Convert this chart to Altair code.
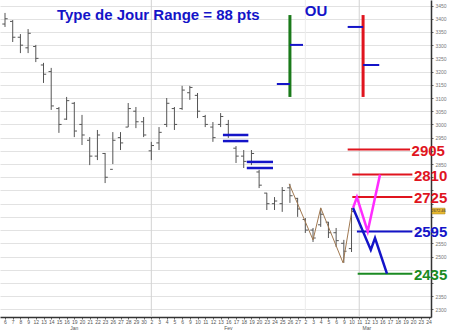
import altair as alt
import pandas as pd

# ---------------- data ----------------
high = [3422, 3395, 3342, 3361, 3301, 3233, 3214, 3066, 3104, 3085,
        3036, 2952, 2979, 2892, 2971, 2971, 3081, 3066, 3028, 2934,
        2990, 3100, 3066, 3146, 3146, 3119, 3036, 3009, 3043, 3017,
        2918, 2903, 2903, 2828, 2741, 2725, 2763, 2775, 2722, 2646,
        2608, 2684, 2631, 2608, 2563, 2684]
low = [3369, 3312, 3270, 3270, 3236, 3157, 3055, 2968, 3017, 2952,
       2922, 2846, 2865, 2778, 2850, 2903, 2990, 2986, 2952, 2865,
       2903, 2990, 2979, 3055, 3093, 3024, 2990, 2934, 2990, 2949,
       2854, 2835, 2846, 2759, 2676, 2676, 2669, 2703, 2650, 2589,
       2555, 2612, 2570, 2536, 2476, 2517]
opens = [3380, 3390, 3330, 3290, 3295, 3225, 3200, 3060, 3020, 3080,
         3000, 2940, 2880, 2890, 2830, 2950, 2990, 3050, 3010, 2900,
         2930, 3000, 3060, 3060, 3120, 3110, 3030, 2990, 3000, 3000,
         2910, 2880, 2860, 2820, 2740, 2700, 2700, 2760, 2720, 2640,
         2600, 2620, 2630, 2590, 2550, 2530]
closes = [3400, 3330, 3300, 3345, 3250, 3190, 3070, 3000, 3090, 2975,
          2960, 2880, 2960, 2800, 2940, 2930, 3060, 3010, 2960, 2920,
          2970, 3080, 3000, 3130, 3140, 3050, 3000, 2950, 3030, 2960,
          2880, 2860, 2890, 2770, 2700, 2710, 2750, 2730, 2680, 2600,
          2570, 2660, 2590, 2560, 2520, 2670]

days = ["6", "7", "8", "9", "12", "13", "14", "15", "16", "19", "20", "21", "22", "23",
        "26", "27", "28", "29", "30",
        "2", "3", "4", "5", "6", "9", "10", "11", "12", "13", "16", "17", "18", "19", "20",
        "23", "24", "25", "26", "27",
        "2", "3", "4", "5", "6", "9", "10", "11", "12", "13", "16", "17", "18", "19", "20",
        "23", "24"]
months = ["Jan", "Fev", "Mar"]
month_at = [9, 29, 47]
month_label_p = 2231

wave_x = [36.9, 40.0, 41.0, 43.9, 45.1]
wave_p = [2775, 2563, 2684, 2476, 2684]

up_x = [45.2, 45.7, 47.1, 48.7]
up_p = [2684, 2725, 2595, 2810]
down_x = [45.2, 47.5, 48.05, 49.6]
down_p = [2684, 2525, 2570, 2435]

levels = [2905, 2810, 2725, 2595, 2435]
level_from = [44.5, 45.1, 45.1, 45.7, 45.8]
level_to = [52.6, 52.9, 52.9, 52.9, 52.9]
level_kind = ["r", "r", "r", "b", "g"]

band_p = [2960, 2937, 2858, 2835]
band_from = [28.3, 28.3, 31.4, 31.4]
band_to = [31.6, 31.6, 34.8, 34.8]

last_price = 2672
month_lines = [19, 46]
month_lines_faint = [39]

y_ticks = list(range(2300, 3451, 50))
y_hidden = [2900, 2800, 2750, 2700, 2650, 2600, 2450, 2400]

# ---------------- styles ----------------
RED = "#e0141e"
BLUE = "#1414c8"
GREEN = "#1a8a22"
kind_color = {"r": RED, "b": BLUE, "g": GREEN}
FONT = "Liberation Sans"

xs = alt.Scale(domain=[-0.65, 55.32], nice=False, zero=False)
ys = alt.Scale(domain=[2271, 3471], nice=False, zero=False)

days_arr = "[" + ",".join(f"'{d}'" for d in days) + "]"
hidden_arr = "[" + ",".join(str(v) for v in y_hidden) + "]"

xaxis = alt.Axis(values=list(range(len(days))), labelExpr=f"{days_arr}[datum.value]",
                 labelFontSize=5, labelColor="#555", labelFont=FONT, labelOverlap=False,
                 labelPadding=0, tickSize=2, tickColor="#666", domainColor="#333",
                 domainWidth=1.5, grid=False, title=None, labelFlush=False)
yaxis = alt.Axis(orient="right", values=y_ticks, grid=True,
                 labelExpr=f"indexof({hidden_arr}, datum.value) >= 0 ? '' : datum.label",
                 gridColor="#e2e2e2", gridWidth=1, labelFontSize=5, labelColor="#777",
                 labelFont=FONT, tickSize=2, tickColor="#666", domainColor="#333",
                 domainWidth=1.5, title=None, labelPadding=2, format="d")


def X(f):
    return alt.X(f, type="quantitative", scale=xs, axis=xaxis)


def Y(f):
    return alt.Y(f, type="quantitative", scale=ys, axis=yaxis)


bars = pd.DataFrame({"i": list(range(len(high))), "high": high, "low": low,
                     "open": opens, "close": closes})

vlines = alt.Chart(pd.DataFrame({"i": month_lines})).mark_rule(
    color="#d2d2d2", strokeWidth=1).encode(x=X("i"))
vlines2 = alt.Chart(pd.DataFrame({"i": month_lines_faint})).mark_rule(
    color="#ececec", strokeWidth=1).encode(x=X("i"))

hl = alt.Chart(bars).mark_rule(color="#555", strokeWidth=1).encode(
    x=X("i"), y=Y("low"), y2="high")
otk = alt.Chart(bars).transform_calculate(xo="datum.i - 0.35").mark_rule(
    color="#555", strokeWidth=1).encode(x=X("xo"), x2="i", y=Y("open"))
ctk = alt.Chart(bars).transform_calculate(xc="datum.i + 0.35").mark_rule(
    color="#555", strokeWidth=1).encode(x=X("i"), x2="xc", y=Y("close"))

wave = alt.Chart(pd.DataFrame({"x": wave_x, "p": wave_p, "o": range(len(wave_x))})).mark_line(
    color="#a07850", strokeWidth=1).encode(x=X("x"), y=Y("p"), order="o")

lv = pd.DataFrame({"p": levels, "a": level_from, "b": level_to,
                   "c": [kind_color[k] for k in level_kind], "t": [str(v) for v in levels]})
level_rules = alt.Chart(lv).mark_rule(strokeWidth=2).encode(
    x=X("a"), x2="b", y=Y("p"), color=alt.Color("c:N", scale=None))
level_text = alt.Chart(lv).transform_calculate(tx="datum.b + 0.2").mark_text(
    align="left", baseline="middle", font=FONT, fontSize=15, fontWeight="bold", dy=1).encode(
    x=X("tx"), y=Y("p"), text="t:N", color=alt.Color("c:N", scale=None))

up = alt.Chart(pd.DataFrame({"x": up_x, "p": up_p, "o": range(len(up_x))})).mark_line(
    color="#ff2cff", strokeWidth=2.5).encode(x=X("x"), y=Y("p"), order="o")
down = alt.Chart(pd.DataFrame({"x": down_x, "p": down_p, "o": range(len(down_x))})).mark_line(
    color=BLUE, strokeWidth=2.5).encode(x=X("x"), y=Y("p"), order="o")

bands = alt.Chart(pd.DataFrame({"p": band_p, "a": band_from, "b": band_to})).mark_rule(
    color=BLUE, strokeWidth=2.5).encode(x=X("a"), x2="b", y=Y("p"))

# example day-shape sketches at the top
green_bar = alt.Chart(pd.DataFrame({"x": [37.0], "lo": [3104], "hi": [3414]})).mark_rule(
    color="#1a7a1a", strokeWidth=3).encode(x=X("x"), y=Y("lo"), y2="hi")
red_bar = alt.Chart(pd.DataFrame({"x": [46.5], "lo": [3104], "hi": [3414]})).mark_rule(
    color=RED, strokeWidth=3).encode(x=X("x"), y=Y("lo"), y2="hi")
sketch_ticks = alt.Chart(pd.DataFrame({
    "a": [35.3, 37.0, 44.5, 46.5], "b": [37.0, 38.7, 46.5, 48.6],
    "p": [3153, 3301, 3369, 3225]})).mark_rule(color=BLUE, strokeWidth=2).encode(
    x=X("a"), x2="b", y=Y("p"))

title = alt.Chart(pd.DataFrame({"x": [19.9], "p": [3395], "t": ["Type de Jour Range = 88 pts"]})).mark_text(
    align="center", baseline="alphabetic", font=FONT, fontSize=15, fontWeight="bold", color=BLUE).encode(
    x=X("x"), y=Y("p"), text="t:N")
ou = alt.Chart(pd.DataFrame({"x": [40.4], "p": [3410], "t": ["OU"]})).mark_text(
    align="center", baseline="alphabetic", font=FONT, fontSize=15, fontWeight="bold", color=BLUE).encode(
    x=X("x"), y=Y("p"), text="t:N")

month_text = alt.Chart(pd.DataFrame({"x": month_at, "p": [month_label_p] * len(months), "t": months})).mark_text(
    align="center", baseline="middle", font=FONT, fontSize=5, color="#555").encode(
    x=X("x"), y=Y("p"), text="t:N")

last = pd.DataFrame({"x": [56.3], "p": [last_price], "t": [f"{last_price}.46"]})
last_box = alt.Chart(last).mark_point(
    shape="M-1,-0.45H1V0.45H-1Z", size=169, filled=True, fill="#e8b830", stroke="#a88a20",
    strokeWidth=0.5, opacity=1).encode(x=X("x"), y=Y("p"))
last_txt = alt.Chart(last).mark_text(fontSize=4, font=FONT, color="#333").encode(
    x=X("x"), y=Y("p"), text="t:N")

chart = alt.layer(
    vlines2, vlines, hl, otk, ctk, wave, bands, level_rules, level_text, up, down,
    green_bar, red_bar, sketch_ticks, title, ou, month_text, last_box, last_txt
).properties(
    width=431, height=317,
    autosize=alt.AutoSizeParams(type="none"),
    padding={"left": 0, "top": 0, "right": 19, "bottom": 13},
    background="white",
).configure_view(stroke=None)

chart.save("out.html", embed_options={"renderer": "svg", "actions": False})
